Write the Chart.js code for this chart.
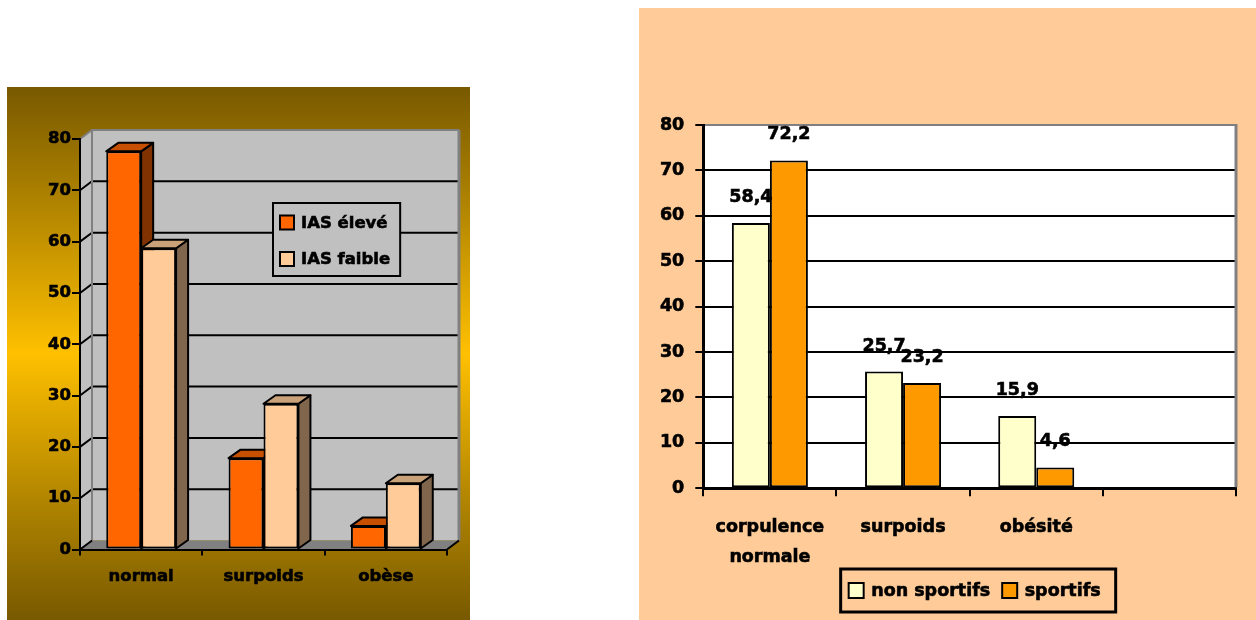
<!DOCTYPE html>
<html>
<head>
<meta charset="utf-8">
<script src="https://cdn.jsdelivr.net/npm/chart.js@4.4.1/dist/chart.umd.min.js"></script>
<style>
  html, body { margin: 0; padding: 0; width: 1256px; height: 620px; overflow: hidden; background: #ffffff; }
  #leftPanel {
    position: absolute; left: 7px; top: 87px; width: 463px; height: 533px;
    background: linear-gradient(to bottom, #785900 0%, #b88a00 25%, #ffc000 50%, #b88a00 75%, #785900 100%);
  }
  #rightPanel {
    position: absolute; left: 639px; top: 8px; width: 617px; height: 612px;
    background: #ffcc99;
  }
  canvas { display: block; }
</style>
</head>
<body>
<div id="leftPanel"><canvas id="chartIas" width="463" height="533" style="width:463px;height:533px"></canvas></div>
<div id="rightPanel"><canvas id="chartSport" width="617" height="612" style="width:617px;height:612px"></canvas></div>
<script>
// Left chart: corpulence by IAS level
const iasCategories = ['normal', 'surpoids', 'obèse'];
const iasEleve = [77.6, 17.8, 4.6];
const iasFaible = [58.7, 28.4, 12.9];
const iasSeriesNames = ['IAS élevé', 'IAS faible'];

// Right chart: corpulence of sporting / non sporting people
const sportCategories = [['corpulence', 'normale'], 'surpoids', 'obésité', ''];
const nonSportifs = [58.4, 25.7, 15.9, null];
const sportifs = [72.2, 23.2, 4.6, null];
const sportSeriesNames = ['non sportifs', 'sportifs'];

// Shared value axis
const axisMin = 0;
const axisMax = 80;
const axisStep = 10;

const FONT = '"DejaVu Sans"';
const LEFT_SIZE = 16.5;
const RIGHT_SIZE = 17.5;
const TEXT_STROKE = 0.6;

// depth of the pseudo-3D walls and columns
const WALL_DX = 12, WALL_DY = -9;
const BAR_DX = 12, BAR_DY = -8.5;

function poly(ctx, pts, fill, stroke, lw) {
  ctx.beginPath();
  ctx.moveTo(pts[0][0], pts[0][1]);
  for (let i = 1; i < pts.length; i++) ctx.lineTo(pts[i][0], pts[i][1]);
  ctx.closePath();
  if (fill) { ctx.fillStyle = fill; ctx.fill(); }
  if (stroke) { ctx.strokeStyle = stroke; ctx.lineWidth = lw || 2; ctx.stroke(); }
}

function boldText(ctx, str, x, y) {
  ctx.fillStyle = '#000';
  ctx.strokeStyle = '#000';
  ctx.lineWidth = TEXT_STROKE;
  ctx.fillText(str, x, y);
  ctx.strokeText(str, x, y);
}

// walls, floor and gridlines of the 3D chart
const wallsPlugin = {
  id: 'walls3d',
  beforeDraw(chart) {
    const { ctx, chartArea: a, scales: { y } } = chart;
    const L = a.left, R = a.right;
    const T = y.getPixelForValue(axisMax), B = y.getPixelForValue(axisMin);
    ctx.save();
    ctx.lineJoin = 'miter';
    // side wall and back wall
    poly(ctx, [[L, T], [L + WALL_DX, T + WALL_DY], [L + WALL_DX, B + WALL_DY], [L, B]], '#c0c0c0');
    ctx.fillStyle = '#c0c0c0';
    ctx.fillRect(L + WALL_DX, T + WALL_DY, R - L, B - T);
    // floor
    poly(ctx, [[L, B], [L + WALL_DX, B + WALL_DY], [R + WALL_DX, B + WALL_DY], [R, B]], '#808080');
    // gridlines
    ctx.strokeStyle = '#000';
    ctx.lineWidth = 2;
    for (let v = axisMin + axisStep; v < axisMax; v += axisStep) {
      const py = y.getPixelForValue(v);
      ctx.beginPath();
      ctx.moveTo(L, py);
      ctx.lineTo(L + WALL_DX, py + WALL_DY);
      ctx.lineTo(R + WALL_DX, py + WALL_DY);
      ctx.stroke();
    }
    // wall edges
    ctx.strokeStyle = '#808080';
    ctx.lineWidth = 2;
    ctx.beginPath();
    ctx.moveTo(L, T);
    ctx.lineTo(L + WALL_DX, T + WALL_DY);
    ctx.lineTo(R + WALL_DX, T + WALL_DY);
    ctx.moveTo(L + WALL_DX, T + WALL_DY);
    ctx.lineTo(L + WALL_DX, B + WALL_DY);
    ctx.stroke();
    ctx.lineWidth = 3;
    ctx.beginPath();
    ctx.moveTo(R + WALL_DX, T + WALL_DY);
    ctx.lineTo(R + WALL_DX, B + WALL_DY);
    ctx.stroke();
    // floor edges
    ctx.strokeStyle = '#000';
    ctx.lineWidth = 2;
    ctx.beginPath();
    ctx.moveTo(L, B);
    ctx.lineTo(L + WALL_DX, B + WALL_DY);
    ctx.moveTo(R, B);
    ctx.lineTo(R + WALL_DX, B + WALL_DY);
    ctx.stroke();
    ctx.restore();
  }
};

// top and side faces of each column, drawn behind the front faces
const columns3dPlugin = {
  id: 'columns3d',
  beforeDatasetsDraw(chart) {
    const ctx = chart.ctx;
    ctx.save();
    ctx.lineJoin = 'round';
    chart.data.datasets.forEach((ds, di) => {
      const meta = chart.getDatasetMeta(di);
      meta.data.forEach((el) => {
        const { x, y, base, width } = el.getProps(['x', 'y', 'base', 'width'], true);
        const l = x - width / 2, r = x + width / 2;
        poly(ctx, [[r, y], [r + BAR_DX, y + BAR_DY], [r + BAR_DX, base + BAR_DY], [r, base]], ds.sideColor, '#000', 2);
        poly(ctx, [[l, y], [l + BAR_DX, y + BAR_DY], [r + BAR_DX, y + BAR_DY], [r, y]], ds.topColor, '#000', 2);
      });
    });
    ctx.restore();
  }
};

// boxed legend inside the plot area of the left chart
const iasLegendPlugin = {
  id: 'iasLegend',
  afterDatasetsDraw(chart) {
    const ctx = chart.ctx;
    ctx.save();
    ctx.font = `bold ${LEFT_SIZE}px ${FONT}`;
    const sw = 14, gapSw = 7, padL = 7, padR = 10;
    const widths = chart.data.datasets.map(d => ctx.measureText(d.label).width);
    const boxL = 266, boxT = 116, boxH = 73;
    const boxW = padL + sw + gapSw + Math.max(...widths) + padR;
    ctx.fillStyle = '#c0c0c0';
    ctx.fillRect(boxL, boxT, boxW, boxH);
    ctx.strokeStyle = '#000';
    ctx.lineWidth = 2;
    ctx.strokeRect(boxL, boxT, boxW, boxH);
    const rows = [boxT + 19.5, boxT + 56];
    chart.data.datasets.forEach((d, i) => {
      const cy = rows[i];
      ctx.fillStyle = d.backgroundColor;
      ctx.strokeStyle = '#000';
      ctx.lineWidth = 2;
      ctx.fillRect(boxL + padL, cy - sw / 2, sw, sw);
      ctx.strokeRect(boxL + padL, cy - sw / 2, sw, sw);
      ctx.textBaseline = 'middle';
      ctx.textAlign = 'left';
      boldText(ctx, d.label, boxL + padL + sw + gapSw, cy + 1);
    });
    ctx.restore();
  }
};

// white plot area of the right chart
const plotBackgroundPlugin = {
  id: 'plotBackground',
  beforeDraw(chart) {
    const { ctx, chartArea: a } = chart;
    ctx.save();
    ctx.fillStyle = '#ffffff';
    ctx.fillRect(a.left, a.top, a.right - a.left, a.bottom - a.top);
    ctx.restore();
  }
};

// value labels above the columns of the right chart
const valueLabelsPlugin = {
  id: 'valueLabels',
  afterDatasetsDraw(chart) {
    const ctx = chart.ctx;
    ctx.save();
    ctx.font = `bold ${RIGHT_SIZE}px ${FONT}`;
    ctx.textAlign = 'center';
    ctx.textBaseline = 'middle';
    chart.data.datasets.forEach((ds, di) => {
      const meta = chart.getDatasetMeta(di);
      meta.data.forEach((el, i) => {
        const v = ds.data[i];
        if (v === null || v === undefined) return;
        boldText(ctx, String(v).replace('.', ','), el.x, el.y - 25.5);
      });
    });
    ctx.restore();
  }
};

// grey plot border on the right and boxed legend under the right chart
const sportFramePlugin = {
  id: 'sportFrame',
  afterDraw(chart) {
    const { ctx, chartArea: a } = chart;
    ctx.save();
    ctx.strokeStyle = '#808080';
    ctx.lineWidth = 3;
    ctx.beginPath();
    ctx.moveTo(a.right, a.top - 1);
    ctx.lineTo(a.right, a.bottom - 1);
    ctx.stroke();

    ctx.font = `bold ${RIGHT_SIZE}px ${FONT}`;
    const sw = 15, gapSw = 7.5, itemGap = 12, padL = 8, padR = 15;
    const items = chart.data.datasets.map(d => ({ label: d.label, color: d.backgroundColor, w: ctx.measureText(d.label).width }));
    const contentW = items.reduce((s, it) => s + sw + gapSw + it.w, 0) + itemGap * (items.length - 1);
    const boxW = contentW + padL + padR;
    const cx = a.left + (a.right - a.left) * 0.516;
    const boxL = cx - boxW / 2, boxT = 561, boxH = 43;
    ctx.strokeStyle = '#000';
    ctx.lineWidth = 3;
    ctx.strokeRect(boxL, boxT, boxW, boxH);
    const cy = boxT + boxH / 2;
    let xx = boxL + padL;
    ctx.textBaseline = 'middle';
    ctx.textAlign = 'left';
    items.forEach((it) => {
      ctx.fillStyle = it.color;
      ctx.strokeStyle = '#000';
      ctx.lineWidth = 2;
      ctx.fillRect(xx, cy - sw / 2, sw, sw);
      ctx.strokeRect(xx, cy - sw / 2, sw, sw);
      xx += sw + gapSw;
      boldText(ctx, it.label, xx, cy + 1);
      xx += it.w + itemGap;
    });
    ctx.restore();
  }
};

function tickFont(size, lh) {
  return { family: FONT, size: size, weight: 'bold', lineHeight: lh || 1.2 };
}

function buildCharts() {
  Chart.defaults.font.family = FONT;

  new Chart(document.getElementById('chartIas'), {
    type: 'bar',
    data: {
      labels: iasCategories,
      datasets: [
        { label: iasSeriesNames[0], data: iasEleve, backgroundColor: '#ff6600', topColor: '#c75000', sideColor: '#803300',
          borderColor: '#000', borderWidth: 2, borderSkipped: false },
        { label: iasSeriesNames[1], data: iasFaible, backgroundColor: '#ffcc99', topColor: '#c9a27a', sideColor: '#80664d',
          borderColor: '#000', borderWidth: 2, borderSkipped: false }
      ]
    },
    options: {
      responsive: false,
      animation: false,
      events: [],
      layout: { padding: { top: 52, right: 23, left: 0, bottom: 0 } },
      datasets: { bar: { categoryPercentage: 0.571, barPercentage: 1 } },
      plugins: { legend: { display: false }, tooltip: { enabled: false } },
      scales: {
        x: {
          grid: { offset: true, drawOnChartArea: false, color: '#000', lineWidth: 2, tickLength: 6 },
          border: { display: true, color: '#000', width: 2, z: 1 },
          ticks: { color: '#000', font: tickFont(LEFT_SIZE), padding: 11, textStrokeColor: '#000', textStrokeWidth: TEXT_STROKE },
          afterFit(s) { s.height = 70.5; }
        },
        y: {
          min: axisMin, max: axisMax,
          grid: { drawOnChartArea: false, color: '#000', lineWidth: 2, tickLength: 8 },
          border: { display: true, color: '#000', width: 2, z: 1 },
          ticks: { stepSize: axisStep, color: '#000', font: tickFont(LEFT_SIZE), padding: 1, textStrokeColor: '#000', textStrokeWidth: TEXT_STROKE },
          afterFit(s) { s.width = 73; }
        }
      }
    },
    plugins: [wallsPlugin, columns3dPlugin, iasLegendPlugin]
  });

  new Chart(document.getElementById('chartSport'), {
    type: 'bar',
    data: {
      labels: sportCategories,
      datasets: [
        { label: sportSeriesNames[0], data: nonSportifs, backgroundColor: '#ffffcc', borderColor: '#000', borderWidth: 2, borderSkipped: false },
        { label: sportSeriesNames[1], data: sportifs, backgroundColor: '#ff9900', borderColor: '#000', borderWidth: 2, borderSkipped: false }
      ]
    },
    options: {
      responsive: false,
      animation: false,
      events: [],
      layout: { padding: { top: 117, right: 20, left: 0, bottom: 0 } },
      datasets: { bar: { categoryPercentage: 0.571, barPercentage: 1 } },
      plugins: { legend: { display: false }, tooltip: { enabled: false } },
      scales: {
        x: {
          grid: { offset: true, drawOnChartArea: false, color: '#000', lineWidth: 2, tickLength: 8 },
          border: { display: true, color: '#000', width: 3, z: 1 },
          ticks: { color: '#000', font: tickFont(RIGHT_SIZE, 30 / RIGHT_SIZE), padding: 16.5, textStrokeColor: '#000', textStrokeWidth: TEXT_STROKE },
          afterFit(s) { s.height = 131.7; }
        },
        y: {
          min: axisMin, max: axisMax,
          grid: {
            drawOnChartArea: true, lineWidth: 2, tickLength: 8, tickColor: '#000',
            color: (c) => (c.tick && c.tick.value === axisMax ? '#808080' : '#000')
          },
          border: { display: true, color: '#000', width: 3, z: 1 },
          ticks: { stepSize: axisStep, color: '#000', font: tickFont(RIGHT_SIZE), padding: 11, textStrokeColor: '#000', textStrokeWidth: TEXT_STROKE },
          afterFit(s) { s.width = 64.3; }
        }
      }
    },
    plugins: [plotBackgroundPlugin, valueLabelsPlugin, sportFramePlugin]
  });
}

if (document.fonts && document.fonts.load) {
  Promise.all([document.fonts.load(`bold ${LEFT_SIZE}px ${FONT}`), document.fonts.load(`bold ${RIGHT_SIZE}px ${FONT}`)])
    .then(buildCharts, buildCharts);
} else {
  buildCharts();
}
</script>
</body>
</html>
